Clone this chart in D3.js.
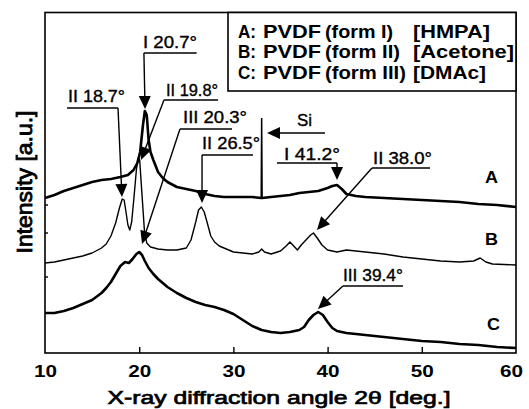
<!DOCTYPE html>
<html>
<head>
<meta charset="utf-8">
<script src="https://cdn.jsdelivr.net/npm/d3@7"></script>
<style>
  body { margin: 0; background: #fff; }
  svg { display: block; }
  text { font-family: "Liberation Sans", Arial, sans-serif; fill: #000; }
</style>
</head>
<body>
<div id="chart"></div>
<script>
// --- XRD patterns: [2theta (deg), intensity (a.u.)] ---
const curveA = [
  [10,155],[11,158],[12,162],[13,165],[14,168],[15,171],[16,173],[17,174],[18,176],
  [18.8,178],[19.4,183],[19.8,190],[20.1,201],[20.4,228],[20.6,242],[20.8,238],
  [21.0,213],[21.2,201],[21.5,193],[22,181],[22.5,175],[23,171],[24,166],[25,164],
  [26,162],[27,159],[28,157],[29,156],[30,156],[31,156],[32,156],[32.95,155],
  [33.0,235],[33.05,155],[34,156],[35,157],[36,158],[37,160],[38,161],[39,162],
  [40,165],[40.5,167],[41,168],[41.5,164],[42,159],[43,157],[44,156],[46,155],
  [48,154],[50,153],[52,152],[54,151],[56,149],[58,148],[60,146]
];
const curveB = [
  [10,90],[11,91],[12,93],[13,95],[14,97],[15,100],[16,105],[16.5,109],[17,117],
  [17.5,130],[17.9,145],[18.2,154],[18.4,153],[18.6,141],[18.8,128],[19.0,123],
  [19.2,131],[19.45,156],[19.7,183],[19.9,195],[20.05,193],[20.3,158],[20.55,123],
  [20.8,110],[21.2,106],[22,104],[23,103],[24,103],[25,105],[25.5,113],[26,131],
  [26.3,143],[26.6,146],[26.9,141],[27.2,131],[27.6,117],[28,111],[28.5,107],
  [29,105],[30,101],[31,100],[32,99],[32.7,101],[33,104],[33.3,101],[34,99],
  [35,102],[35.6,107],[36.0,111],[36.4,107],[36.8,103],[37.2,108],[37.7,113],
  [38.2,118],[38.5,120],[38.9,115],[39.4,108],[40,103],[41,101],[42,103],[43,102],
  [44,101],[46,99],[48,96],[50,94],[52,92],[54,91],[55.5,92],[56.2,95],[56.8,91],
  [57.5,89],[60,88]
];
const curveC = [
  [10,40],[11,40],[12,42],[13,45],[14,49],[15,53],[16,60],[16.5,65],[17,71],
  [17.5,79],[18,87],[18.5,91],[18.9,90],[19.3,94],[19.7,99],[20.0,101],[20.3,98],
  [20.6,92],[21.0,85],[21.5,79],[22,74],[22.5,70],[23,66],[24,60],[25,55],[26,51],
  [27,48],[28,46],[29,43],[30,39],[31,33],[32,27],[33,23],[34,21],[35,20],[36,21],
  [37,23],[37.5,26],[38,33],[38.5,38],[39.0,41],[39.5,38],[40,31],[40.5,25],
  [41,22],[42,20],[44,18],[46,16],[48,14],[50,12],[52,11],[54,9],[56,8],[58,6],[60,5]
];
// Si reflection on pattern A (thin spike)
const siSpike = [[32.95,155],[33.0,235],[33.05,155]];

const seriesNames = ["A", "B", "C"];
const seriesLabelPos = [[57.4, 170], [57.4, 108], [57.6, 23]];
const xTicks = [10, 20, 30, 40, 50, 60];
const yMarks = [148, 120, 76];

const legendRows = [
  ["A:", "PVDF", "(form I)", "[HMPA]"],
  ["B:", "PVDF", "(form II)", "[Acetone]"],
  ["C:", "PVDF", "(form III)", "[DMAc]"]
];

// peak annotations: label at (x, y) in data units, underline span, arrow from start to tip
const annotations = [
  { label: "I 20.7°",   x: 20.40, y: 305, w: 54, ul: [20.5, 26.1],  uy: 300, start: [20.5, 300],  tip: [20.62, 244] },
  { label: "II 18.7°",  x: 12.44, y: 251, w: 57, ul: [12.34, 17.75], uy: 245, start: [17.75, 245], tip: [18.17, 156] },
  { label: "II 19.8°",  x: 22.85, y: 257, w: 52, ul: [22.63, 28.37], uy: 253, start: [22.63, 253], tip: [20.19, 193] },
  { label: "III 20.3°", x: 24.65, y: 230, w: 64, ul: [24.33, 29.85], uy: 224, start: [24.33, 224], tip: [20.30, 109] },
  { label: "II 26.5°",  x: 26.67, y: 204, w: 58, ul: [26.67, 32.08], uy: 198, start: [26.67, 198], tip: [26.67, 150] },
  { label: "Si",        x: 36.75, y: 227, w: 15, ul: null,           uy: null, start: [39.72, 220], tip: [33.57, 220] },
  { label: "I 41.2°",   x: 35.37, y: 193, w: 56, ul: [34.63, 41.0],  uy: 190, start: [41.0, 190],  tip: [41.0, 173] },
  { label: "II 38.0°",  x: 44.82, y: 189, w: 59, ul: [44.71, 50.87], uy: 185, start: [44.71, 185], tip: [38.87, 123] },
  { label: "III 39.4°", x: 41.63, y: 72,  w: 60, ul: [41.63, 48.0],  uy: 67,  start: [41.63, 67],  tip: [38.98, 44] }
];

// --------------------------
// CHART
// --------------------------
const width = 529;
const height = 409;
const margin = { top: 12.5, right: 13, bottom: 56, left: 45 };

const svg = d3.select("#chart")
  .append("svg")
  .attr("width", width)
  .attr("height", height);

const x = d3.scaleLinear()
  .domain([10, 60])
  .range([margin.left, width - margin.right]);

const y = d3.scaleLinear()
  .domain([0, 340.5])
  .range([height - margin.bottom, margin.top]);

function addText(g, s, px, py, o = {}) {
  const t = g.append("text")
    .attr("x", px)
    .attr("y", py)
    .attr("text-anchor", o.anchor || "start")
    .style("font-size", (o.size || 16) + "px")
    .style("font-weight", o.weight || "normal")
    .text(s);
  if (o.len) t.attr("textLength", o.len).attr("lengthAdjust", "spacingAndGlyphs");
  if (o.thick) t.attr("stroke", "#000").attr("stroke-width", o.thick);
  return t;
}

// curves (spike drawn separately, thinner)
const line = d3.line().x(d => x(d[0])).y(d => y(d[1]));
const spikeSet = new Set(siSpike.slice(1, -1).map(d => d[0]));
const curves = [curveA.filter(d => !spikeSet.has(d[0])), curveB, curveC];
const strokeW = [2.6, 1.4, 2.6];

svg.append("g").selectAll("path")
  .data(curves)
  .join("path")
    .attr("d", line)
    .attr("fill", "none")
    .attr("stroke", "#000")
    .attr("stroke-width", (d, i) => strokeW[i])
    .attr("stroke-linejoin", "round");

svg.append("path")
  .attr("d", line(siSpike))
  .attr("fill", "none")
  .attr("stroke", "#000")
  .attr("stroke-width", 1.5);

// frame + ticks
const x0 = x(10), x1 = x(60), yb = y(0), yt = margin.top;
svg.append("rect")
  .attr("x", x0).attr("y", yt)
  .attr("width", x1 - x0).attr("height", yb - yt)
  .attr("fill", "none").attr("stroke", "#000").attr("stroke-width", 1.6);

const xAxis = d3.axisBottom(x)
  .tickValues(xTicks)
  .tickSizeInner(-6)
  .tickSizeOuter(0)
  .tickPadding(10)
  .tickFormat(d3.format("d"));

const gx = svg.append("g")
  .attr("transform", `translate(0, ${yb})`)
  .call(xAxis);
gx.select(".domain").remove();
gx.selectAll(".tick line").attr("stroke-width", 1.4)
  .filter(d => d === 10 || d === 60).remove();
gx.selectAll(".tick text")
  .attr("y", 24)
  .attr("dy", null)
  .attr("textLength", 23)
  .attr("lengthAdjust", "spacingAndGlyphs")
  .attr("dx", d => d === 60 ? -5 : 0)
  .style("font-family", '"Liberation Sans", Arial, sans-serif')
  .style("font-size", "16.5px")
  .style("font-weight", "bold");

svg.append("g").selectAll("line")
  .data(yMarks)
  .join("line")
    .attr("x1", x0).attr("x2", x0 + 3)
    .attr("y1", d => y(d)).attr("y2", d => y(d))
    .attr("stroke", "#000").attr("stroke-width", 1.4);

// axis titles
addText(svg, "X-ray diffraction angle 2θ [deg.]", 279, 404,
  { anchor: "middle", size: 18.6, len: 343, thick: 0.7 });
addText(svg, "Intensity [a.u.]", 0, 0,
  { anchor: "middle", size: 18.6, len: 143, thick: 0.7 })
  .attr("transform", "translate(32, 182) rotate(-90) scale(1, 1.2)");

// legend
const lg = svg.append("g");
lg.append("rect")
  .attr("x", 228).attr("y", yt)
  .attr("width", x1 - 228).attr("height", 91 - yt)
  .attr("fill", "#fff").attr("stroke", "#000").attr("stroke-width", 1.6);

const colX = [238, 263, 325, 413];
const colW = [
  [18, 58, 68, 77],
  [18, 58, 75, 101],
  [18, 58, 81, 73]
];
const rowY = [38, 58, 78.5];
legendRows.forEach((row, r) => {
  row.forEach((s, c) => {
    addText(lg, s, colX[c], rowY[r], { size: 18, weight: "bold", len: colW[r][c] });
  });
});

// series labels
seriesNames.forEach((s, i) => {
  addText(svg, s, x(seriesLabelPos[i][0]), y(seriesLabelPos[i][1]),
    { anchor: "middle", size: 16, weight: "bold", len: 13 });
});

// annotations
const ag = svg.append("g");
annotations.forEach(a => {
  addText(ag, a.label, x(a.x), y(a.y), { size: 16, len: a.w, thick: 0.35 });
  if (a.ul) {
    ag.append("line")
      .attr("x1", x(a.ul[0])).attr("x2", x(a.ul[1]))
      .attr("y1", y(a.uy)).attr("y2", y(a.uy))
      .attr("stroke", "#000").attr("stroke-width", 1.4);
  }
  const sx = x(a.start[0]), sy = y(a.start[1]);
  const tx = x(a.tip[0]), ty = y(a.tip[1]);
  const len = Math.hypot(tx - sx, ty - sy);
  const ux = (tx - sx) / len, uy = (ty - sy) / len;
  const hl = 13, hw = 6;
  const bx = tx - ux * hl, by = ty - uy * hl;
  ag.append("line")
    .attr("x1", sx).attr("y1", sy)
    .attr("x2", bx + ux * 2).attr("y2", by + uy * 2)
    .attr("stroke", "#000").attr("stroke-width", 1.4);
  ag.append("path")
    .attr("d", `M${tx},${ty}L${bx - uy * hw},${by + ux * hw}L${bx + uy * hw},${by - ux * hw}Z`)
    .attr("fill", "#000");
});
</script>
</body>
</html>
